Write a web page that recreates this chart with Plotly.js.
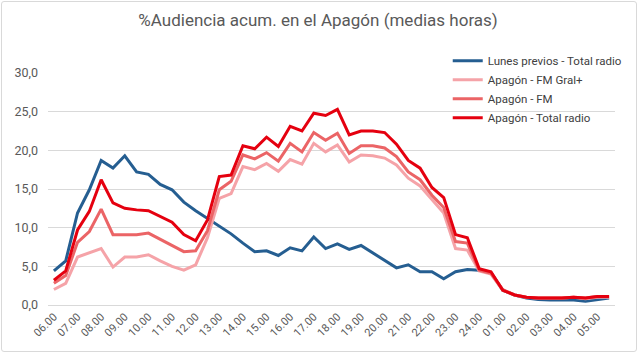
<!DOCTYPE html>
<html>
<head>
<meta charset="utf-8">
<script src="https://cdn.plot.ly/plotly-3.0.1.min.js"></script>
<style>
html,body{margin:0;padding:0;background:#fff;}
#frame{position:absolute;left:1px;top:1px;width:634px;height:349px;border:1px solid #d9d9d9;border-radius:3px;}
#chart{position:absolute;left:0;top:0;width:640px;height:354px;}
</style>
</head>
<body>
<div id="frame"></div>
<div id="chart"></div>
<script>
const categories = ["06.00","06.30","07.00","07.30","08.00","08.30","09.00","09.30","10.00","10.30","11.00","11.30",
  "12.00","12.30","13.00","13.30","14.00","14.30","15.00","15.30","16.00","16.30","17.00","17.30",
  "18.00","18.30","19.00","19.30","20.00","20.30","21.00","21.30","22.00","22.30","23.00","23.30",
  "24.00","24.30","01.00","01.30","02.00","02.30","03.00","03.30","04.00","04.30","05.00","05.30"];
const tickLabels = ["06.00","07.00","08.00","09.00","10.00","11.00","12.00","13.00","14.00","15.00","16.00","17.00",
  "18.00","19.00","20.00","21.00","22.00","23.00","24.00","01.00","02.00","03.00","04.00","05.00"];

const lunesPrevios = [4.4,5.7,11.9,14.9,18.7,17.7,19.3,17.2,16.9,15.6,14.9,13.3,
  12.2,11.2,10.2,9.2,8.0,6.9,7.0,6.4,7.4,7.0,8.8,7.3,
  7.9,7.2,7.7,6.7,5.7,4.8,5.2,4.3,4.3,3.4,4.3,4.6,
  4.5,4.2,1.9,1.3,0.9,0.7,0.65,0.65,0.65,0.5,0.7,0.9];
const fmGral = [2.0,2.8,6.2,6.8,7.3,4.9,6.2,6.2,6.5,5.7,5.0,4.5,
  5.2,8.7,13.8,14.4,17.9,17.5,18.3,17.3,18.8,18.2,20.9,19.8,
  20.7,18.5,19.4,19.3,19.0,18.1,16.4,15.4,13.6,11.9,7.3,7.1,
  4.4,4.0,1.9,1.3,1.0,0.9,0.9,0.9,1.0,0.8,1.0,1.0];
const fm = [2.8,3.8,8.1,9.5,12.4,9.1,9.1,9.1,9.3,8.5,7.8,6.9,
  7.0,9.6,14.9,16.0,19.4,18.9,19.7,18.6,20.9,19.8,22.3,21.3,
  22.2,19.6,20.6,20.6,20.3,19.2,17.2,16.2,14.2,12.6,8.2,8.0,
  4.5,4.1,2.0,1.3,1.0,0.9,0.9,0.9,1.0,0.9,1.1,1.1];
const totalRadio = [3.2,4.4,9.7,12.1,16.2,13.2,12.5,12.3,12.2,11.5,10.7,9.1,
  8.3,11.0,16.6,16.8,20.6,20.2,21.7,20.5,23.1,22.5,24.8,24.5,
  25.3,22.0,22.5,22.5,22.3,20.8,18.7,17.7,15.2,13.9,9.1,8.7,
  4.7,4.3,1.9,1.3,1.0,0.9,0.9,0.9,1.0,0.9,1.1,1.1];

const names = ["Lunes previos - Total radio","Apagón - FM Gral+","Apagón - FM","Apagón - Total radio"];
const colors = ["#255e91","#f5a3a8","#eb6466","#e5000f"];
const series = [lunesPrevios, fmGral, fm, totalRadio];

const traces = series.map((s,i)=>({
  type:"scatter", mode:"lines", name:names[i],
  x:categories, y:s,
  line:{color:colors[i], width:3}
}));

const layout = {
  width:640, height:354,
  margin:{l:48, r:20, t:73, b:49},
  paper_bgcolor:"rgba(0,0,0,0)", plot_bgcolor:"rgba(0,0,0,0)",
  separators:",.",
  font:{family:"Roboto, 'Noto Sans', sans-serif", color:"#595959"},
  title:{text:"%Audiencia acum. en el Apagón (medias horas)", x:0.497, xanchor:"center", y:0.942, yanchor:"middle",
    font:{size:17, color:"#595959", family:"Roboto, 'Noto Sans', sans-serif"}},
  xaxis:{type:"category", range:[-0.5,47.5], tickmode:"array", tickvals:tickLabels, ticktext:tickLabels,
    tickangle:-45, tickfont:{size:11, color:"#595959"}, showgrid:false, showline:true, linecolor:"#d9d9d9", linewidth:1,
    ticks:"", zeroline:false, fixedrange:true},
  yaxis:{range:[0,30], dtick:5, tick0:0, tickformat:".1f", tickfont:{size:12.5, color:"#595959"},
    gridcolor:"#d9d9d9", gridwidth:1, zeroline:false, showline:false, ticklabelstandoff:9, fixedrange:true},
  legend:{x:0.705, y:1.115, xanchor:"left", yanchor:"top", bgcolor:"rgba(0,0,0,0)",
    font:{size:11.5, color:"#404040", family:"Roboto, 'Noto Sans', sans-serif"}, tracegroupgap:0, itemwidth:30},
  showlegend:true
};

Plotly.newPlot("chart", traces, layout, {displayModeBar:false, staticPlot:true});
</script>
</body>
</html>
